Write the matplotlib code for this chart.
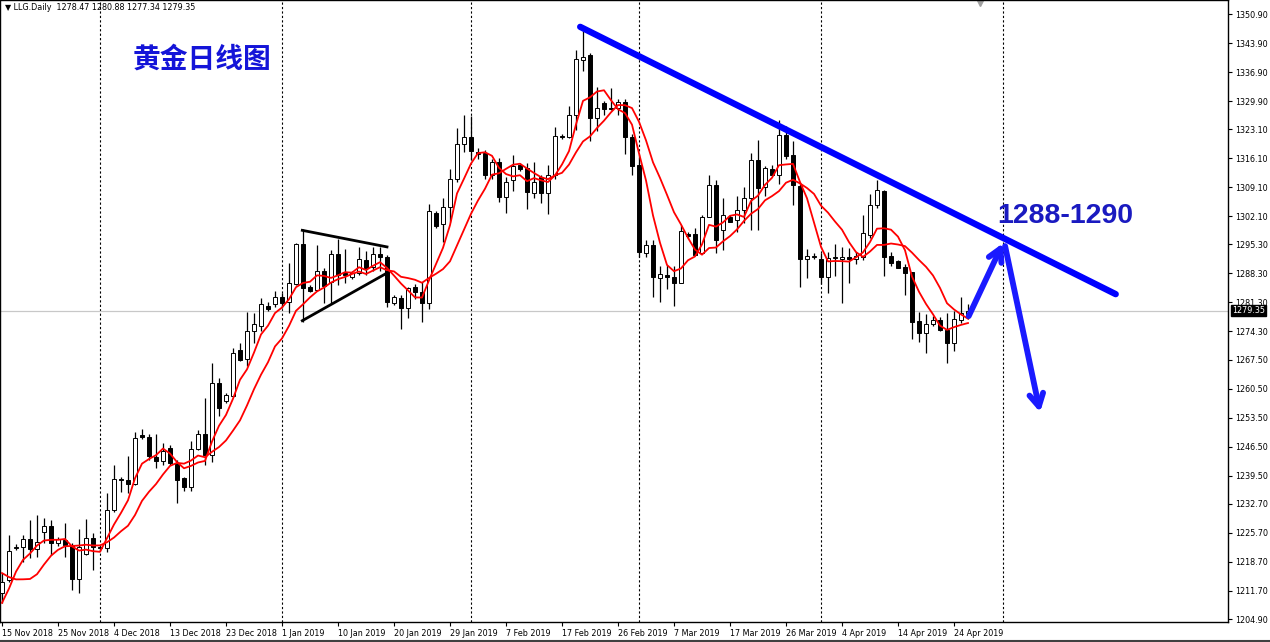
import numpy as np
import pandas as pd
import matplotlib
matplotlib.use('Agg')
import matplotlib.pyplot as plt

# daily OHLC, 15 Nov 2018 .. 26 Apr 2019 (one entry per bar, Sunday bars included)
opens = [1211.2, 1214.3, 1222.0, 1222.3, 1224.2, 1221.8, 1225.9, 1227.4, 1223.2, 1224.0,
         1222.8, 1214.6, 1220.5, 1224.4, 1222.2, 1222.0, 1231.2, 1238.7, 1238.4, 1237.5,
         1249.3, 1248.8, 1244.0, 1243.0, 1246.2, 1242.6, 1238.9, 1236.8, 1245.9, 1249.6,
         1244.5, 1261.9, 1257.5, 1258.7, 1269.8, 1267.6, 1274.5, 1275.5, 1280.4, 1280.9,
         1282.6, 1281.4, 1285.8, 1295.4, 1285.0, 1284.3, 1288.9, 1286.2, 1293.0, 1288.4,
         1287.4, 1288.4, 1291.5, 1289.9, 1293.0, 1292.3, 1281.2, 1282.4, 1280.0, 1285.0,
         1283.8, 1281.2, 1302.9, 1300.2, 1304.3, 1311.1, 1319.5, 1321.2, 1317.7, 1317.4,
         1312.1, 1315.2, 1306.7, 1310.8, 1314.5, 1313.7, 1307.8, 1311.6, 1307.8, 1312.1,
         1321.5, 1321.2, 1326.5, 1339.8, 1341.0, 1325.8, 1329.4, 1328.2, 1328.2, 1329.6,
         1321.2, 1314.5, 1293.2, 1295.2, 1287.2, 1288.0, 1287.4, 1286.0, 1297.8, 1297.8,
         1293.3, 1301.9, 1309.6, 1298.8, 1301.9, 1301.2, 1303.6, 1306.5, 1315.7, 1309.1,
         1313.5, 1312.1, 1321.7, 1316.9, 1309.4, 1291.8, 1292.2, 1291.8, 1287.4, 1292.0,
         1291.8, 1292.3, 1291.8, 1292.3, 1297.6, 1304.8, 1308.2, 1292.5, 1291.3, 1289.9,
         1288.6, 1276.8, 1274.0, 1276.1, 1277.1, 1274.7, 1271.5, 1277.1, 1278.47]
highs = [1216.0, 1225.2, 1223.0, 1225.2, 1228.8, 1230.0, 1229.3, 1228.8, 1224.6, 1228.1,
         1223.3, 1226.6, 1229.1, 1225.7, 1222.6, 1235.3, 1242.1, 1239.2, 1244.3, 1250.0,
         1250.8, 1249.5, 1249.5, 1247.4, 1246.9, 1243.3, 1239.2, 1247.9, 1250.5, 1258.2,
         1266.7, 1263.1, 1259.5, 1270.3, 1271.5, 1279.0, 1278.8, 1282.4, 1281.4, 1284.1,
         1283.6, 1290.8, 1295.6, 1299.0, 1285.5, 1295.2, 1289.6, 1294.0, 1296.6, 1294.3,
         1288.9, 1294.7, 1293.8, 1294.7, 1294.7, 1292.8, 1283.0, 1283.0, 1285.0, 1285.7,
         1286.3, 1305.0, 1303.4, 1306.6, 1313.5, 1323.4, 1326.5, 1326.3, 1318.5, 1318.0,
         1316.0, 1316.2, 1311.6, 1316.9, 1315.0, 1314.9, 1315.2, 1312.1, 1314.5, 1323.6,
         1322.0, 1328.7, 1342.2, 1347.0, 1341.6, 1333.2, 1330.0, 1333.0, 1330.5, 1330.5,
         1322.0, 1316.9, 1296.4, 1296.4, 1290.0, 1290.4, 1290.0, 1299.9, 1298.2, 1299.2,
         1302.4, 1312.1, 1310.8, 1306.5, 1302.4, 1307.0, 1309.2, 1317.4, 1320.5, 1314.2,
         1314.5, 1325.4, 1323.8, 1320.3, 1310.0, 1294.3, 1293.3, 1293.2, 1293.5, 1295.5,
         1294.6, 1294.4, 1293.5, 1302.4, 1307.5, 1310.9, 1308.4, 1293.5, 1291.6, 1290.5,
         1288.6, 1279.0, 1278.4, 1278.0, 1277.7, 1278.8, 1279.2, 1282.6, 1280.88]
lows = [1208.8, 1213.8, 1221.6, 1218.7, 1219.6, 1219.9, 1223.2, 1220.4, 1222.6, 1219.9,
        1211.9, 1211.2, 1220.3, 1216.7, 1221.3, 1221.1, 1230.7, 1235.5, 1235.3, 1237.2,
        1248.3, 1243.3, 1241.4, 1242.1, 1242.1, 1232.9, 1235.8, 1235.8, 1245.7, 1242.1,
        1242.8, 1253.9, 1257.0, 1258.5, 1267.2, 1266.0, 1271.5, 1274.5, 1279.3, 1280.2,
        1280.0, 1278.8, 1285.5, 1276.6, 1283.8, 1284.3, 1281.2, 1281.2, 1285.5, 1286.0,
        1286.9, 1287.9, 1287.9, 1289.0, 1288.8, 1280.2, 1280.7, 1274.8, 1277.5, 1282.2,
        1276.6, 1279.8, 1299.2, 1296.0, 1300.7, 1310.4, 1317.6, 1315.7, 1316.0, 1311.1,
        1311.1, 1305.5, 1302.9, 1308.1, 1313.0, 1303.8, 1306.5, 1305.3, 1302.7, 1311.1,
        1320.8, 1321.0, 1322.9, 1337.1, 1320.3, 1322.7, 1326.6, 1327.7, 1326.5, 1317.1,
        1312.1, 1292.3, 1292.3, 1282.6, 1281.4, 1284.5, 1280.5, 1286.0, 1296.8, 1292.8,
        1293.3, 1301.9, 1293.3, 1294.0, 1300.7, 1298.4, 1300.5, 1298.8, 1298.8, 1307.0,
        1312.0, 1310.0, 1315.9, 1304.8, 1285.0, 1287.1, 1291.8, 1285.8, 1283.6, 1287.6,
        1281.2, 1285.9, 1290.5, 1291.5, 1296.8, 1304.2, 1287.7, 1290.0, 1289.6, 1283.0,
        1272.4, 1271.8, 1269.0, 1275.5, 1274.3, 1266.7, 1269.6, 1276.3, 1277.34]
closes = [1213.9, 1221.3, 1222.4, 1224.2, 1221.8, 1223.5, 1227.4, 1223.2, 1224.2, 1222.8,
          1214.6, 1222.3, 1224.4, 1222.3, 1222.0, 1231.2, 1238.7, 1238.4, 1237.5, 1248.6,
          1248.8, 1244.3, 1243.0, 1245.5, 1242.6, 1238.5, 1236.8, 1245.9, 1249.6, 1244.5,
          1261.9, 1255.8, 1259.0, 1269.1, 1267.4, 1274.5, 1276.0, 1280.9, 1279.7, 1282.6,
          1281.2, 1286.0, 1295.4, 1284.8, 1284.1, 1288.9, 1285.3, 1293.0, 1287.9, 1287.9,
          1288.4, 1291.8, 1289.6, 1293.0, 1292.3, 1281.4, 1282.6, 1280.0, 1284.8, 1283.8,
          1281.2, 1303.4, 1299.7, 1304.3, 1311.1, 1319.5, 1321.2, 1317.9, 1317.0, 1312.1,
          1315.2, 1306.7, 1310.4, 1314.2, 1313.5, 1308.0, 1310.4, 1307.8, 1312.1, 1321.5,
          1321.2, 1326.5, 1340.0, 1340.5, 1325.8, 1328.2, 1328.0, 1328.0, 1329.6, 1321.2,
          1314.2, 1293.5, 1295.2, 1287.4, 1288.2, 1287.4, 1286.0, 1298.5, 1297.3, 1292.8,
          1301.9, 1309.6, 1296.4, 1302.4, 1300.7, 1303.6, 1306.5, 1315.7, 1308.9, 1313.7,
          1312.1, 1321.7, 1316.6, 1309.6, 1291.8, 1292.5, 1292.3, 1287.4, 1292.0, 1292.3,
          1292.3, 1291.8, 1292.5, 1298.0, 1304.8, 1308.4, 1292.3, 1290.8, 1289.6, 1288.4,
          1276.6, 1274.0, 1276.1, 1277.1, 1274.7, 1271.5, 1277.3, 1278.8, 1279.35]
# closes of the bars just left of the visible window (only feed the moving averages)
pre_close = [1231.0, 1228.0, 1224.0, 1221.0, 1212.0, 1204.0, 1202.0, 1210.0, 1214.1]

date_labels = ['15 Nov 2018', '25 Nov 2018', '4 Dec 2018', '13 Dec 2018', '23 Dec 2018',
               '1 Jan 2019', '10 Jan 2019', '20 Jan 2019', '29 Jan 2019', '7 Feb 2019',
               '17 Feb 2019', '26 Feb 2019', '7 Mar 2019', '17 Mar 2019', '26 Mar 2019',
               '4 Apr 2019', '14 Apr 2019', '24 Apr 2019']
label_step = 8
month_start_bars = [14, 40, 67, 91, 117, 143]
price_ticks = [1350.90, 1343.90, 1336.90, 1329.90, 1323.10, 1316.10, 1309.10, 1302.10,
               1295.30, 1288.30, 1281.30, 1274.30, 1267.50, 1260.50, 1253.50, 1246.50,
               1239.50, 1232.70, 1225.70, 1218.70, 1211.70, 1204.90]
bid = 1279.35

# hand drawn annotations (bar index, price)
trend_line = [(82.6, 1347.8), (159.1, 1283.3)]
triangle_upper = [(42.9, 1298.7), (55.0, 1294.7)]
triangle_lower = [(42.9, 1276.9), (55.0, 1288.4)]
arrow_up = [(138.1, 1278.0), (143.0, 1295.6)]
arrow_down = [(143.3, 1294.9), (148.3, 1254.8)]

o = np.array(opens)
h = np.array(highs)
l = np.array(lows)
c = np.array(closes)
x = np.arange(len(c))

full = pd.Series(pre_close + closes)
ma_fast = full.rolling(5).mean().to_numpy()[len(pre_close):]
ma_slow = full.rolling(10).mean().to_numpy()[len(pre_close):]

fig = plt.figure(figsize=(12.7, 6.42), dpi=100)
ax = fig.add_axes([0, 20 / 642, 1228 / 1270, 622 / 642])
ax.set_xlim(-2 / 7, 1226 / 7)
ax.set_ylim(1204.19, 1354.28)

for b in month_start_bars:
    ax.axvline(b, color='black', lw=0.8, ls=(0, (2, 2)), zorder=1)
ax.axhline(bid, color='#c8c8c8', lw=0.9, zorder=1)

# candles
ax.vlines(x, l, h, color='black', lw=0.9, zorder=3)
up = c >= o
body_bottom = np.minimum(o, c)
body_h = np.maximum(np.abs(c - o), 0.3)
ax.bar(x[up], body_h[up], bottom=body_bottom[up], width=0.62, color='white',
       edgecolor='black', linewidth=0.7, zorder=4)
ax.bar(x[~up], body_h[~up], bottom=body_bottom[~up], width=0.62, color='black',
       edgecolor='black', linewidth=0.7, zorder=4)

ax.plot(x, ma_fast, color='#ff0000', lw=1.3, zorder=5)
ax.plot(x, ma_slow, color='#ff0000', lw=1.3, zorder=5)

# annotations
(tx0, ty0), (tx1, ty1) = trend_line
ax.plot([tx0, tx1], [ty0, ty1], color='#0000ff', lw=4.6, solid_capstyle='round', zorder=6)
for seg in (triangle_upper, triangle_lower):
    ax.plot([seg[0][0], seg[1][0]], [seg[0][1], seg[1][1]], color='black', lw=2.0, zorder=6)
for seg in (arrow_up, arrow_down):
    ax.annotate('', xy=seg[1], xytext=seg[0],
                arrowprops=dict(arrowstyle='->,head_length=0.9,head_width=0.5',
                                color='#1a1aff', lw=4.2, shrinkA=0, shrinkB=0),
                zorder=7)

ax.text(133 / 1228, 1 - 60 / 622, '黄金日线图', transform=ax.transAxes, ha='left', va='center',
        fontsize=20, fontweight='bold', color='#1414d8', family=['Noto Sans CJK SC', 'DejaVu Sans'])
ax.text(997 / 1228, 1 - 216 / 622, '1288-1290', transform=ax.transAxes, ha='left', va='center',
        fontsize=20.5, fontweight='bold', color='#1a1ac0', family='Liberation Sans')
ax.text(5 / 1228, 1 - 8 / 622, '▼ LLG.Daily  1278.47 1280.88 1277.34 1279.35',
        transform=ax.transAxes, ha='left', va='center', fontsize=5.8, color='black')
ax.plot([980 / 1228], [1 - 2 / 622], marker='v', color='#a0a0a0', ms=6,
        transform=ax.transAxes, clip_on=False)

# axes
for side in ['top', 'left', 'bottom', 'right']:
    ax.spines[side].set_color('black')
    ax.spines[side].set_linewidth(1.0)
tick_pos = [i * label_step for i in range(len(date_labels))]
ax.set_xticks(tick_pos)
ax.set_xticklabels(date_labels, fontsize=5.8, ha='left')
ax.tick_params(axis='x', direction='out', length=3, width=0.8, pad=2)
ax.yaxis.tick_right()
ax.set_yticks(price_ticks)
ax.set_yticklabels([f'{v:.2f}' for v in price_ticks], fontsize=5.8)
ax.tick_params(axis='y', direction='out', length=3, width=0.8, pad=2)
ax.annotate(f'{bid:.2f}', xy=(1.0, bid), xycoords=('axes fraction', 'data'),
            xytext=(3, 0), textcoords='offset points', ha='left', va='center',
            fontsize=5.8, color='white',
            bbox=dict(boxstyle='square,pad=0.15', fc='black', ec='black'))

fig.add_artist(plt.Line2D([0, 1], [1 / 642, 1 / 642], color='#404040', lw=1.5,
                          transform=fig.transFigure))

fig.savefig('out.png', dpi=100, facecolor='white')
